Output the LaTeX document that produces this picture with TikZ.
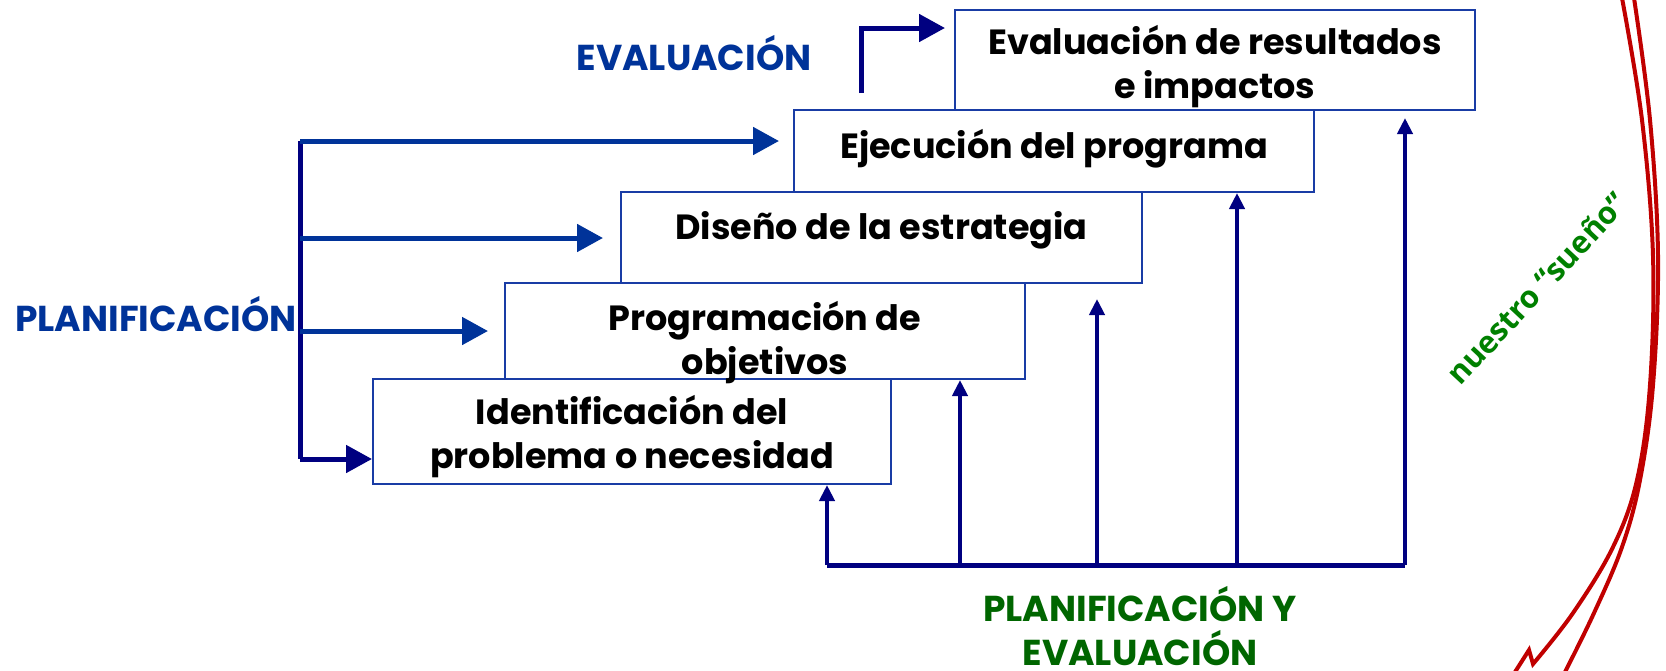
\documentclass[tikz,border=0pt]{standalone}
\usepackage{fontspec}
\newfontfamily\gothic{Poppins}
\newfontfamily\dreamfont{Open Sans}
\usetikzlibrary{arrows.meta}
\definecolor{boxblue}{RGB}{25,60,165}
\definecolor{planblue}{RGB}{0,51,153}
\definecolor{navy}{RGB}{0,0,128}
\definecolor{darkgreen}{RGB}{0,102,0}
\definecolor{dreamgreen}{RGB}{0,128,0}
\definecolor{dreamred}{RGB}{192,0,0}

\begin{document}
\begin{tikzpicture}[x=1pt, y=-1pt,
                    stage/.style={draw=boxblue, line width=2pt, anchor=north west, inner sep=0pt, align=center,
                                  font=\gothic\bfseries\fontsize{35}{44}\selectfont},
                    phase/.style={anchor=base, align=center, inner sep=0pt, font=\gothic\bfseries\fontsize{36}{44}\selectfont},
                    big arrow/.style={line width=5pt, -{Triangle[length=26pt, width=27pt]}},
                    small arrow/.style={draw=navy, line width=4pt, -{Triangle[length=16pt, width=15pt]}},
                    dream/.style={draw=dreamred, line width=4pt, line join=miter}]
  \useasboundingbox (0,0) rectangle (1666,670);

  \node[stage, minimum width=518pt, text height=89pt, text depth=16pt] (1) at (372,378) {Identificación del\\problema o necesidad};
  \node[stage, minimum width=520pt, text height=91pt, text depth=5pt] (2) at (504,282) {Programación de\\objetivos};
  \node[stage, minimum width=521pt, text height=47pt, text depth=44pt] (3) at (620,191) {Diseño de la estrategia};
  \node[stage, minimum width=520pt, text height=48pt, text depth=34pt] (4) at (793,109) {Ejecución del programa};
  \node[stage, minimum width=520pt, text height=88pt, text depth=12pt] (5) at (954,9) {Evaluación de resultados\\e impactos};

  \node[phase, text=planblue] (plan) at (156,331) {PLANIFICACIÓN};
  \node[phase, text=planblue] (eval) at (694,70) {EVALUACIÓN};
  \node[phase, text=darkgreen] (both) at (1140,665) {PLANIFICACIÓN Y\\EVALUACIÓN};
  \node[rotate=47, inner sep=0pt, text=dreamgreen, font=\dreamfont\bfseries\fontsize{31}{33}\selectfont] (dream) at (1537,288) {nuestro “sueño”};

  \coordinate (p4) at (300,141);
  \coordinate (p3) at (300,238);
  \coordinate (p2) at (300,331);
  \coordinate (p1) at (300,459);
  \draw[navy, line width=5pt] (p4) -- (p1);
  \draw[big arrow, planblue, shorten >=14pt] (p4) -- (p4 -| 4.west);
  \draw[big arrow, planblue, shorten >=17pt] (p3) -- (p3 -| 3.west);
  \draw[big arrow, planblue, shorten >=16pt] (p2) -- (p2 -| 2.west);
  \draw[big arrow, navy] (p1) -- (p1 -| 1.west);

  \coordinate (e0) at (861,93);
  \draw[big arrow, navy, shorten >=9pt] (e0) |- ([yshift=-19pt]5.north west);

  \foreach \i/\x in {1/827, 2/960, 3/1097, 4/1237, 5/1405}
    \coordinate (f\i) at (\x,565);
  \draw[navy, line width=5pt] (f1) -- (f5);
  \foreach \i/\s in {1/0, 2/0, 3/15, 4/0, 5/7}
    \draw[small arrow, shorten >=\s pt] (f\i) -- (f\i |- \i.south);

  \draw[dream] (1515,672) -- (1529,650) -- plot[smooth, tension=0.6] coordinates {(1533,664) (1573,613) (1613,547) (1637,480) (1650,385) (1653,256) (1642,120) (1622,-2)};
  \draw[dream] plot[smooth, tension=0.6] coordinates {(1565,672) (1594,613) (1622,547) (1640,480) (1653,385) (1658,256) (1650,120) (1634,-2)};
\end{tikzpicture}
\end{document}
